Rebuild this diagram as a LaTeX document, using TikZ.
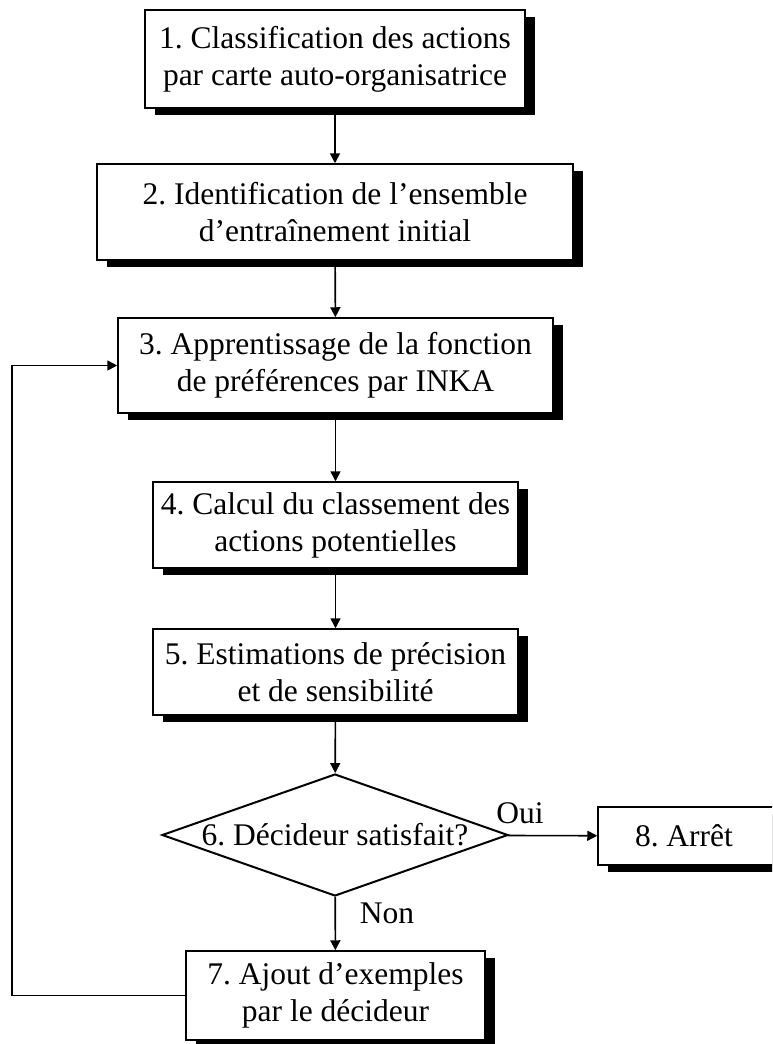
\documentclass[tikz,border=0pt]{standalone}
\usepackage{fontspec}
\setmainfont{Liberation Serif}
\frenchspacing
\usetikzlibrary{shapes.geometric,shadows,arrows.meta}
\tikzset{
  stepbox/.style={draw, line width=1.5pt, fill=white, inner sep=0pt, align=center,
    font=\fontsize{31.5}{37}\selectfont,
    drop shadow={opacity=1, fill=black, shadow xshift=10pt, shadow yshift=-7pt}},
  decision/.style={diamond, draw, line width=2pt, fill=white, inner sep=0pt,
    minimum width=346pt, minimum height=122pt, font=\fontsize{31.5}{37}\selectfont},
  arr/.style={line width=1.6pt, -{Triangle[length=10pt,width=10pt]}},
  lbl/.style={font=\fontsize{31.5}{37}\selectfont, inner sep=0pt}
}
\begin{document}
\begin{tikzpicture}[x=1pt,y=1pt]
\useasboundingbox (0,0) rectangle (772,-1044);
\clip (0,0) rectangle (772,-1044);
\node[stepbox, minimum width=380pt, minimum height=98pt] (b1) at (335,-59)
  {1. Classification des actions\\par carte auto-organisatrice};
\node[stepbox, minimum width=476pt, minimum height=96pt] (b2) at (335,-212)
  {2. Identification de l’ensemble\\d’entraînement initial};
\node[stepbox, minimum width=435pt, minimum height=95pt] (b3) at (335.5,-365.5)
  {3. Apprentissage de la fonction\\de préférences par INKA};
\node[stepbox, minimum width=365pt, minimum height=86pt] (b4) at (335.5,-525)
  {4. Calcul du classement des\\actions potentielles};
\node[stepbox, minimum width=365pt, minimum height=86pt] (b5) at (335.5,-672)
  {5. Estimations de précision\\et de sensibilité};
\node[decision] (d6) at (335,-835) {\makebox[0pt]{6. Décideur satisfait?}};
\node[stepbox, minimum width=180pt, minimum height=58pt] (b8) at (688,-836)
  {\hspace*{-8pt}8. Arrêt};
\node[stepbox, minimum width=299pt, minimum height=89pt] (b7) at (335.5,-995.5)
  {7. Ajout d’exemples\\par le décideur};
\node[lbl] (oui) at (520,-813) {Oui};
\node[lbl] (non) at (387,-913) {Non};
\coordinate (loop) at (12,-680);
\draw[arr] (b1) -- (b2);
\draw[arr] (b2) -- (b3);
\draw[arr] (b3) -- (b4);
\draw[arr] (b4) -- (b5);
\draw[arr] (b5) -- (d6);
\draw[arr] (d6) -- (b8);
\draw[arr] (d6) -- (b7);
\draw[arr] (b7.west) -| (loop) |- (b3.west);
\end{tikzpicture}
\end{document}
